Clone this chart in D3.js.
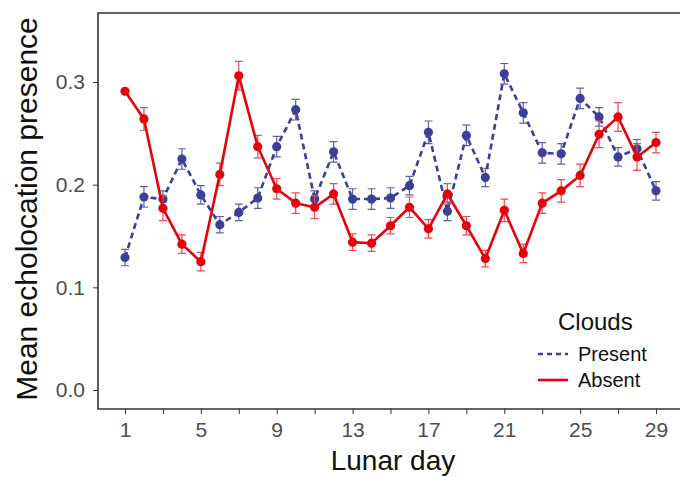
<!DOCTYPE html>
<html>
<head>
<meta charset="utf-8">
<script src="https://cdn.jsdelivr.net/npm/d3@7"></script>
<style>
  body { margin: 0; background: #fff; }
  svg { display: block; font-family: "Liberation Sans", Arial, sans-serif; }
</style>
</head>
<body>
<div id="chart"></div>
<script>
var days = d3.range(1, 30);
var present = [0.129, 0.188, 0.186, 0.225, 0.190, 0.161, 0.173, 0.187, 0.237, 0.273,
               0.186, 0.232, 0.186, 0.186, 0.187, 0.199, 0.251, 0.174, 0.248, 0.207,
               0.308, 0.270, 0.231, 0.230, 0.284, 0.266, 0.227, 0.235, 0.194];
var presentErr = [0.008, 0.010, 0.008, 0.010, 0.009, 0.008, 0.008, 0.010, 0.010, 0.010,
                  0.008, 0.010, 0.010, 0.010, 0.010, 0.009, 0.011, 0.009, 0.010, 0.009,
                  0.010, 0.010, 0.010, 0.010, 0.010, 0.009, 0.009, 0.009, 0.009];
var absent = [0.291, 0.264, 0.177, 0.142, 0.125, 0.210, 0.306, 0.237, 0.196, 0.182,
              0.178, 0.191, 0.144, 0.143, 0.160, 0.178, 0.157, 0.191, 0.160, 0.128,
              0.175, 0.133, 0.182, 0.194, 0.209, 0.249, 0.266, 0.227, 0.241];
var absentErr = [0.001, 0.011, 0.012, 0.009, 0.009, 0.011, 0.014, 0.011, 0.010, 0.010,
                 0.011, 0.010, 0.008, 0.008, 0.008, 0.010, 0.009, 0.010, 0.009, 0.008,
                 0.011, 0.009, 0.010, 0.011, 0.011, 0.013, 0.014, 0.013, 0.010];
var xTicks = [1, 5, 9, 13, 17, 21, 25, 29];
var yTicks = [0, 0.1, 0.2, 0.3];

var width = 680, height = 477;
var panelLeft = 98, panelTop = 13, panelBottom = 409;
var font = '"Liberation Sans", Arial, sans-serif';

var svg = d3.select('#chart').append('svg')
  .attr('width', width)
  .attr('height', height);

var x = d3.scaleLinear().domain([1, 29]).range([125, 656]);
var y = d3.scaleLinear().domain([0, 0.3]).range([390, 82]);

var series = [
  { name: 'Present', vals: present, err: presentErr, color: '#3c3f99', errColor: '#5d60ad', dash: '6,4' },
  { name: 'Absent', vals: absent, err: absentErr, color: '#e8000b', errColor: '#ee4a50', dash: null }
];

// panel border (right side runs off the page)
svg.append('path')
  .attr('d', 'M' + (width + 5) + ',' + panelTop + 'H' + panelLeft + 'V' + panelBottom + 'H' + (width + 5))
  .attr('fill', 'none')
  .attr('stroke', '#333')
  .attr('stroke-width', 1.6);

// axes
var xAxis = svg.append('g')
  .attr('transform', 'translate(0,' + panelBottom + ')')
  .call(d3.axisBottom(x).tickValues(days.filter(function(d) { return d % 2 == 1; }))
    .tickSize(5).tickFormat(function(d) { return xTicks.indexOf(d) >= 0 ? d : ''; }));
xAxis.select('.domain').remove();
xAxis.selectAll('line').attr('stroke', '#333');
xAxis.selectAll('text').attr('font-size', 21).attr('fill', '#4d4d4d')
  .attr('font-family', font).attr('dy', '0.95em');

var yAxis = svg.append('g')
  .attr('transform', 'translate(' + panelLeft + ',0)')
  .call(d3.axisLeft(y).tickValues(yTicks).tickSize(5).tickFormat(d3.format('.1f')));
yAxis.select('.domain').remove();
yAxis.selectAll('line').attr('stroke', '#333');
yAxis.selectAll('text').attr('font-size', 21).attr('fill', '#4d4d4d')
  .attr('font-family', font).attr('x', -13);

// series
series.forEach(function(s) {
  var g = svg.append('g');
  var line = d3.line()
    .x(function(d, i) { return x(days[i]); })
    .y(function(d) { return y(d); });

  g.selectAll('.err')
    .data(s.vals)
    .enter().append('path')
    .attr('d', function(d, i) {
      var cx = x(days[i]), y0 = y(d - s.err[i]), y1 = y(d + s.err[i]);
      return 'M' + (cx - 4) + ',' + y1 + 'H' + (cx + 4) + 'M' + cx + ',' + y1 + 'V' + y0 +
             'M' + (cx - 4) + ',' + y0 + 'H' + (cx + 4);
    })
    .attr('fill', 'none')
    .attr('stroke', s.errColor)
    .attr('stroke-width', 1.2);

  g.append('path')
    .datum(s.vals)
    .attr('d', line)
    .attr('fill', 'none')
    .attr('stroke', s.color)
    .attr('stroke-width', 2.6)
    .attr('stroke-dasharray', s.dash);

  g.selectAll('circle')
    .data(s.vals)
    .enter().append('circle')
    .attr('cx', function(d, i) { return x(days[i]); })
    .attr('cy', function(d) { return y(d); })
    .attr('r', 4.6)
    .attr('fill', s.color);
});

// axis titles
svg.append('text')
  .attr('x', 393).attr('y', 470)
  .attr('text-anchor', 'middle')
  .attr('font-size', 28)
  .attr('fill', '#111')
  .text('Lunar day');

svg.append('text')
  .attr('transform', 'translate(37,209) rotate(-90)')
  .attr('text-anchor', 'middle')
  .attr('font-size', 30)
  .attr('fill', '#111')
  .text('Mean echolocation presence');

// legend
var legend = svg.append('g');
legend.append('text')
  .attr('x', 558).attr('y', 330)
  .attr('font-size', 24)
  .attr('fill', '#111')
  .text('Clouds');

series.forEach(function(s, i) {
  var ly = 354 + i * 26;
  legend.append('line')
    .attr('x1', 538).attr('x2', 568)
    .attr('y1', ly).attr('y2', ly)
    .attr('stroke', s.color)
    .attr('stroke-width', 2.6)
    .attr('stroke-dasharray', s.dash ? '5,4' : null);
  legend.append('text')
    .attr('x', 578).attr('y', ly + 7)
    .attr('font-size', 20)
    .attr('fill', '#111')
    .text(s.name);
});
</script>
</body>
</html>
